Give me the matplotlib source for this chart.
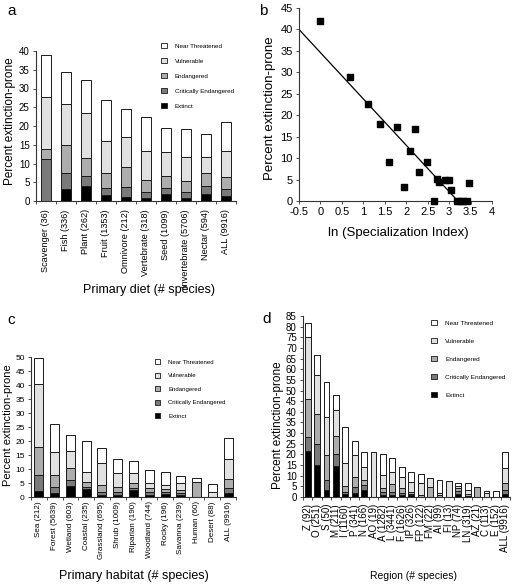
import matplotlib
matplotlib.use("Agg")
import matplotlib.pyplot as plt
from matplotlib.patches import Patch
import numpy as np

plt.rcParams['font.family'] = ['Liberation Sans', 'DejaVu Sans']

status_names = ["Extinct", "Critically Endangered", "Endangered", "Vulnerable", "Near Threatened"]
status_colors = ["#000000", "#7a7a7a", "#adadad", "#e1e1e1", "#ffffff"]

# ---------- panel a: primary diet ----------
diet_labels = ["Scavenger (36)", "Fish (336)", "Plant (262)", "Fruit (1353)", "Omnivore (212)",
               "Vertebrate (318)", "Seed (1099)", "Invertebrate (5706)", "Nectar (594)", "ALL (9916)"]
diet_extinct = [0, 3.1, 4.1, 1.6, 1.2, 0.9, 1.8, 0.8, 1.9, 1.3]
diet_crit = [11.1, 4.3, 2.6, 2.0, 2.5, 1.4, 1.8, 1.5, 2.1, 1.8]
diet_endang = [2.8, 7.5, 4.9, 4.0, 5.3, 3.4, 3.2, 3.1, 3.4, 3.4]
diet_vuln = [13.9, 11.1, 11.8, 8.5, 8.0, 7.7, 6.4, 6.4, 4.4, 6.9]
diet_nt = [11.1, 8.3, 8.8, 10.8, 7.6, 8.9, 6.4, 7.3, 6.2, 7.6]

# ---------- panel b: specialization ----------
spec_ln = [0.0, 0.69, 1.10, 1.39, 1.79, 2.20, 1.61, 2.08, 1.94, 2.30, 2.48, 2.64, 2.71, 2.77,
           2.90, 2.99, 3.04, 3.18, 3.26, 3.33, 3.41, 3.47]
spec_pct = [41.9, 29.0, 22.6, 18.0, 17.2, 16.8, 9.2, 11.7, 3.3, 6.8, 9.0, 0.0, 5.1, 4.5,
            4.9, 4.9, 2.6, 0.0, 0.0, 0.0, 0.0, 4.1]
fit_slope = -10.8
fit_intercept = 34.6
fit_xrange = [-0.5, 3.2]

# ---------- panel c: primary habitat ----------
hab_labels = ["Sea (212)", "Forest (5639)", "Wetland (603)", "Coastal (235)", "Grassland (695)",
              "Shrub (1009)", "Riparian (190)", "Woodland (744)", "Rocky (196)", "Savanna (239)",
              "Human (60)", "Desert (88)", "ALL (9916)"]
hab_extinct = [2.0, 1.4, 3.8, 3.0, 0.8, 0.8, 2.4, 0.8, 1.2, 0.8, 0, 0, 1.3]
hab_crit = [5.7, 2.2, 2.2, 0.6, 0.9, 0.9, 0.8, 0.9, 0.5, 0.6, 0, 0, 1.8]
hab_endang = [10.3, 4.4, 4.3, 1.7, 2.7, 1.7, 1.8, 1.4, 1.0, 1.2, 5.3, 0, 3.4]
hab_vuln = [22.2, 8.2, 6.2, 3.6, 7.6, 5.2, 3.6, 1.9, 1.6, 2.4, 0, 1.7, 6.9]
hab_nt = [9.3, 9.8, 5.8, 11.1, 5.4, 4.9, 4.1, 4.6, 4.6, 2.5, 1.5, 3.0, 7.6]

# ---------- panel d: region ----------
reg_labels = ["Z (92)", "O (251)", "S (50)", "M (211)", "I (1160)", "P (341)", "N (166)", "AO (19)",
              "A (1282)", "L (3441)", "F (1626)", "IP (326)", "FP (122)", "FM (22)", "AI (99)",
              "FI (13)", "NP (74)", "LN (319)", "AZ (21)", "C (113)", "E (152)", "ALL (9916)"]
reg_extinct = [21.5, 14.8, 3.2, 14.5, 1.2, 1.9, 3.1, 0, 1.1, 1.1, 1.1, 0.8, 0, 0, 0, 0, 1.35, 0, 0, 0, 0, 1.3]
reg_crit = [6.9, 10.2, 4.9, 5.9, 1.3, 2.8, 2.4, 0, 1.2, 1.2, 1.0, 0.8, 0, 0, 0, 0, 1.35, 0.6, 0, 0, 0, 1.8]
reg_endang = [17.4, 14.1, 11.7, 8.1, 2.5, 4.7, 2.3, 0, 1.9, 3.6, 2.1, 0.8, 0.8, 4.5, 1.0, 0, 1.35, 1.0, 4.8, 0, 0, 3.4]
reg_vuln = [29.2, 18.4, 17.8, 12.3, 10.8, 10.5, 6.3, 21.1, 6.0, 5.9, 5.2, 4.7, 5.8, 4.6, 1.0, 7.7, 1.35, 1.5, 0, 1.8, 0, 6.9]
reg_nt = [6.5, 9.1, 16.2, 7.0, 17.0, 6.5, 6.8, 0, 10.2, 6.7, 4.5, 4.8, 4.1, 0, 6.1, 0, 1.35, 3.5, 0, 0.9, 2.6, 7.6]

W, H = 517, 585
fig = plt.figure(figsize=(W / 100, H / 100), dpi=100)


def ax_px(x0, y0, x1, y1):
    return fig.add_axes([x0 / W, 1 - y1 / H, (x1 - x0) / W, (y1 - y0) / H])


def style_axes(ax):
    for s in ["top", "right"]:
        ax.spines[s].set_visible(False)
    for s in ["left", "bottom"]:
        ax.spines[s].set_linewidth(0.8)
        ax.spines[s].set_color("#333333")


def place_labels(ax, xl_pos, yl_pos):
    ax.xaxis.label.set_va("center")
    ax.xaxis.set_label_coords(*xl_pos)
    ax.yaxis.label.set_va("center")
    ax.yaxis.set_label_coords(*yl_pos)


def stacked(ax, labels, series, width, ymax, ystep, xtick_fs, ytick_fs, xpad,
            ylabel, ylabel_fs, xlabel, xlabel_fs):
    n = len(labels)
    x = np.arange(n)
    bottom = np.zeros(n)
    for vals, col in zip(series, status_colors):
        vals = np.asarray(vals, dtype=float)
        mask = vals > 0
        ax.bar(x[mask], vals[mask], width=width, bottom=bottom[mask], color=col,
               edgecolor="#1a1a1a", linewidth=0.7, zorder=2)
        bottom = bottom + vals
    ax.set_xlim(-0.5, n - 0.5)
    ax.set_ylim(0, ymax)
    ax.set_yticks(np.arange(0, ymax + 0.1, ystep))
    ax.set_xticks(x)
    ax.set_xticklabels(labels, rotation=90, fontsize=xtick_fs)
    ax.tick_params(axis="x", length=0, pad=xpad)
    ax.set_xticks(np.arange(n + 1) - 0.5, minor=True)
    ax.tick_params(axis="x", which="minor", length=2.5, width=0.6, direction="out", color="#333333")
    ax.tick_params(axis="y", labelsize=ytick_fs, length=2.5, width=0.6, pad=2, color="#333333")
    ax.set_ylabel(ylabel, fontsize=ylabel_fs)
    ax.set_xlabel(xlabel, fontsize=xlabel_fs)
    style_axes(ax)


def legend(ax, x_px, y_px, fs, spacing):
    handles = [Patch(facecolor=c, edgecolor="#1a1a1a", linewidth=0.6)
               for c in status_colors[::-1]]
    fig.legend(handles, status_names[::-1], loc="upper left",
               bbox_to_anchor=(x_px / W, 1 - y_px / H), frameon=False, fontsize=fs,
               handlelength=0.9, handleheight=0.9, handletextpad=1.3,
               labelspacing=spacing, borderpad=0, borderaxespad=0)


# panel a
axa = ax_px(36, 51, 236, 201)
stacked(axa, diet_labels, [diet_extinct, diet_crit, diet_endang, diet_vuln, diet_nt],
        0.53, 40, 5, 6.6, 7, 6,
        "Percent extinction-prone", 8.5, "Primary diet (# species)", 9)
place_labels(axa, (0.565, -0.593), (-0.13, 0.53))
legend(axa, 161, 43, 4.5, 1.48)

# panel b
axb = ax_px(299, 8, 492, 201)
axb.scatter(spec_ln, spec_pct, marker="s", s=16, color="black", zorder=3, clip_on=False)
fx = np.array(fit_xrange)
axb.plot(fx, fit_intercept + fit_slope * fx, color="black", lw=0.9)
axb.set_xlim(-0.5, 4)
axb.set_ylim(0, 45)
axb.set_xticks(np.arange(-0.5, 4.01, 0.5))
axb.set_xticklabels(["-0.5", "0", "0.5", "1", "1.5", "2", "2.5", "3", "3.5", "4"])
axb.set_yticks(np.arange(0, 46, 5))
axb.tick_params(labelsize=8, length=2.5, width=0.6, pad=2, color="#333333")
axb.set_ylabel("Percent extinction-prone", fontsize=9.5)
axb.set_xlabel("ln (Specialization Index)", fontsize=9.5)
place_labels(axb, (0.513, -0.166), (-0.150, 0.479))
style_axes(axb)

# panel c
axc = ax_px(31, 357, 236, 497)
stacked(axc, hab_labels, [hab_extinct, hab_crit, hab_endang, hab_vuln, hab_nt],
        0.57, 50, 5, 5.8, 6, 3,
        "Percent extinction-prone", 8, "Primary habitat (# species)", 9)
place_labels(axc, (0.502, -0.564), (-0.112, 0.511))
legend(axc, 155, 359, 4.3, 1.35)

# panel d
axd = ax_px(303, 316, 510, 497)
stacked(axd, reg_labels, [reg_extinct, reg_crit, reg_endang, reg_vuln, reg_nt],
        0.62, 85, 5, 7, 7, 5,
        "Percent extinction-prone", 8.5, "Region (# species)", 7.5)
place_labels(axd, (0.534, -0.436), (-0.121, 0.398))
legend(axd, 431, 320, 4.6, 1.9)

# panel letters
for lbl, x, y in [("a", 7, 11), ("b", 259, 11), ("c", 7, 320), ("d", 262, 319)]:
    fig.text(x / W, 1 - y / H, lbl, fontsize=11, va="center", ha="left")

fig.savefig("out.png", dpi=100)
